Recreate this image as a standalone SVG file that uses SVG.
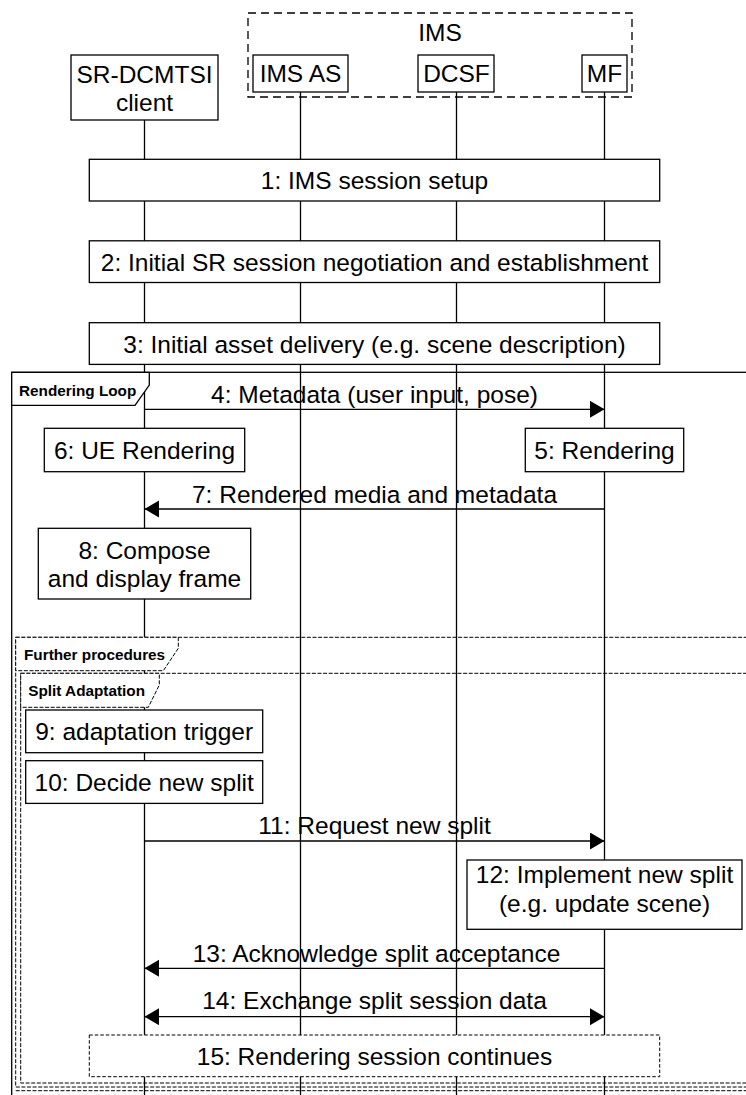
<svg xmlns="http://www.w3.org/2000/svg" width="746" height="1095" viewBox="0 0 746 1095">
<style>
.bx{fill:#fff;stroke:#000;stroke-width:1.3}
.t{font-family:"Liberation Sans",Arial,sans-serif;font-size:24.5px;fill:#000;text-anchor:middle}
.tb{font-family:"Liberation Sans",Arial,sans-serif;font-size:15.3px;font-weight:bold;fill:#000}
.ll{stroke:#000;stroke-width:1.3;fill:none}
.msg{stroke:#000;stroke-width:1.3;fill:none}
.fr{fill:none;stroke:#000;stroke-width:1.3}
.frd{fill:none;stroke:#000;stroke-width:1;stroke-dasharray:4,1.6}
.tab{fill:#fff;stroke:#000;stroke-width:1.3}
.tabd{fill:#fff;stroke:#000;stroke-width:1;stroke-dasharray:4,1.6}
</style>
<defs>
<marker id="ah" markerUnits="userSpaceOnUse" markerWidth="15" markerHeight="18" refX="14.5" refY="8.5" orient="auto-start-reverse">
<path d="M0,0 L14.5,8.5 L0,17 z" fill="#000"/>
</marker>
</defs>
<rect width="746" height="1095" fill="#fff"/>
<g id="lifelines">
<line class="ll" x1="144.5" y1="120" x2="144.5" y2="1095"/>
<line class="ll" x1="300.5" y1="92" x2="300.5" y2="1095"/>
<line class="ll" x1="456.5" y1="92" x2="456.5" y2="1095"/>
<line class="ll" x1="604.5" y1="92" x2="604.5" y2="1095"/>
</g>
<g id="ims-group">
<rect x="248" y="13" width="384" height="84" fill="none" stroke="#000" stroke-width="1.3" stroke-dasharray="8,5"/>
<text class="t" x="440" y="41">IMS</text>
</g>
<g id="sr-client">
<rect class="bx" x="71" y="55" width="147" height="65"/>
<text class="t" x="144.5" y="82.5">SR-DCMTSI</text>
<text class="t" x="144.5" y="110.5">client</text>
</g>
<g id="ims-as">
<rect class="bx" x="253" y="55" width="95" height="37"/>
<text class="t" x="300.5" y="82">IMS AS</text>
</g>
<g id="dcsf">
<rect class="bx" x="418" y="55" width="76" height="37"/>
<text class="t" x="456.5" y="82">DCSF</text>
</g>
<g id="mf">
<rect class="bx" x="582" y="55" width="45" height="37"/>
<text class="t" x="604.5" y="82">MF</text>
</g>
<g id="step1">
<rect class="bx" x="89.3" y="159.3" width="570.4" height="41.7"/>
<text class="t" x="374.5" y="189.2">1: IMS session setup</text>
</g>
<g id="step2">
<rect class="bx" x="89.3" y="240.8" width="570.4" height="41.7"/>
<text class="t" x="374.5" y="270.7">2: Initial SR session negotiation and establishment</text>
</g>
<g id="step3">
<rect class="bx" x="89.3" y="322.7" width="570.4" height="41.7"/>
<text class="t" x="374.5" y="352.6">3: Initial asset delivery (e.g. scene description)</text>
</g>
<g id="rendering-loop">
<rect class="fr" x="11.7" y="372.3" width="760" height="760"/>
<polygon class="tab" points="11.7,372.3 149.3,372.3 149.3,385 135,405.3 11.7,405.3"/>
<text class="tb" x="19" y="396">Rendering Loop</text>
</g>
<g id="further-procedures">
<rect class="frd" x="15.7" y="637.3" width="760" height="449.7"/>
<line class="frd" x1="15.7" y1="1090.7" x2="760" y2="1090.7"/>
<polygon class="tabd" points="15.7,637.3 178.3,637.3 178.3,648.3 163.3,670.7 15.7,670.7"/>
<text class="tb" x="24" y="660">Further procedures</text>
</g>
<g id="split-adaptation">
<rect class="frd" x="20.7" y="673.3" width="760" height="409.7"/>
<polygon class="tabd" points="20.7,673.3 159.3,673.3 159.3,685 148.3,707.3 20.7,707.3"/>
<text class="tb" x="28.3" y="696">Split Adaptation</text>
</g>
<g id="step6">
<rect class="bx" x="44.3" y="428.3" width="200.4" height="43.4"/>
<text class="t" x="144.5" y="459">6: UE Rendering</text>
</g>
<g id="step5">
<rect class="bx" x="525.3" y="428.3" width="158.4" height="43.4"/>
<text class="t" x="604.5" y="459">5: Rendering</text>
</g>
<g id="step8">
<rect class="bx" x="38.3" y="528.3" width="212.4" height="70.7"/>
<text class="t" x="144.5" y="558.7">8: Compose</text>
<text class="t" x="144.5" y="586.7">and display frame</text>
</g>
<g id="step9">
<rect class="bx" x="25.7" y="710" width="237" height="42.7"/>
<text class="t" x="144.2" y="740">9: adaptation trigger</text>
</g>
<g id="step10">
<rect class="bx" x="25.7" y="760.7" width="237" height="42.7"/>
<text class="t" x="144.2" y="790.7">10: Decide new split</text>
</g>
<g id="step12">
<rect class="bx" x="467" y="860" width="275" height="69.3"/>
<text class="t" x="604.5" y="883">12: Implement new split</text>
<text class="t" x="604.5" y="911.5">(e.g. update scene)</text>
</g>
<g id="step15">
<rect x="89.3" y="1035" width="570.4" height="41.7" fill="#fff" stroke="#000" stroke-width="1" stroke-dasharray="3.5,2"/>
<text class="t" x="374.5" y="1064.8">15: Rendering session continues</text>
</g>
<g id="connectors">
<line class="msg" x1="144.5" y1="409.3" x2="604.5" y2="409.3" marker-end="url(#ah)"/>
<text class="t" x="374.5" y="402.5">4: Metadata (user input, pose)</text>
<line class="msg" x1="604.5" y1="509" x2="144.5" y2="509" marker-end="url(#ah)"/>
<text class="t" x="374.5" y="502.5">7: Rendered media and metadata</text>
<line class="msg" x1="144.5" y1="841" x2="604.5" y2="841" marker-end="url(#ah)"/>
<text class="t" x="374.5" y="834">11: Request new split</text>
<line class="msg" x1="604.5" y1="968.3" x2="144.5" y2="968.3" marker-end="url(#ah)"/>
<text class="t" x="376.5" y="961.5">13: Acknowledge split acceptance</text>
<line class="msg" x1="144.5" y1="1016.7" x2="604.5" y2="1016.7" marker-start="url(#ah)" marker-end="url(#ah)"/>
<text class="t" x="374.5" y="1009">14: Exchange split session data</text>
</g>
</svg>
